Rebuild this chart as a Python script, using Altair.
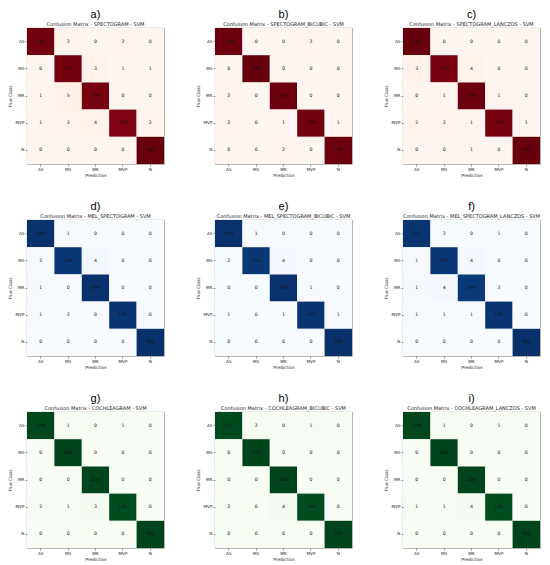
import altair as alt
import pandas as pd

classes = ["AS", "MS", "MR", "MVP", "N"]

letters = ["a)", "b)", "c)", "d)", "e)", "f)", "g)", "h)", "i)"]
names = [
    "SPECTOGRAM", "SPECTOGRAM_BICUBIC", "SPECTOGRAM_LANCZOS",
    "MEL_SPECTOGRAM", "MEL_SPECTOGRAM_BICUBIC", "MEL_SPECTOGRAM_LANCZOS",
    "COCHLEAGRAM", "COCHLEAGRAM_BICUBIC", "COCHLEAGRAM_LANCZOS",
]

reds = ["#fff5f0", "#fee0d2", "#fcbba1", "#fc9272", "#fb6a4a", "#ef3b2c", "#cb181d", "#a50f15", "#67000d"]
blues = ["#f7fbff", "#deebf7", "#c6dbef", "#9ecae1", "#6baed6", "#4292c6", "#2171b5", "#08519c", "#08306b"]
greens = ["#f7fcf5", "#e5f5e0", "#c7e9c0", "#a1d99b", "#74c476", "#41ab5d", "#238b45", "#006d2c", "#00441b"]
palettes = [reds] * 3 + [blues] * 3 + [greens] * 3
color_stops = [0, 25, 50, 75, 100, 125, 150, 175, 200]

cm_a = [[196, 2, 0, 2, 0], [0, 195, 3, 1, 1], [1, 5, 194, 0, 0], [1, 3, 4, 190, 2], [0, 0, 0, 0, 200]]
cm_b = [[198, 0, 0, 2, 0], [0, 200, 0, 0, 0], [2, 0, 198, 0, 0], [2, 0, 1, 196, 1], [0, 0, 2, 0, 198]]
cm_c = [[200, 0, 0, 0, 0], [3, 193, 4, 0, 0], [0, 1, 198, 1, 0], [2, 2, 1, 194, 1], [0, 0, 1, 0, 199]]
cm_d = [[199, 1, 0, 0, 0], [2, 194, 4, 0, 0], [1, 0, 199, 0, 0], [1, 2, 0, 197, 0], [0, 0, 0, 0, 200]]
cm_e = [[199, 1, 0, 0, 0], [2, 194, 4, 0, 0], [0, 0, 199, 1, 0], [1, 0, 1, 197, 1], [0, 0, 0, 0, 200]]
cm_f = [[197, 2, 0, 1, 0], [1, 195, 4, 0, 0], [1, 4, 193, 2, 0], [1, 1, 1, 197, 0], [0, 0, 0, 0, 200]]
cm_g = [[198, 1, 0, 1, 0], [0, 200, 0, 0, 0], [0, 0, 200, 0, 0], [2, 1, 3, 194, 0], [0, 0, 0, 0, 200]]
cm_h = [[197, 2, 0, 1, 0], [0, 200, 0, 0, 0], [0, 0, 200, 0, 0], [2, 0, 4, 194, 0], [0, 0, 0, 0, 200]]
cm_i = [[198, 1, 0, 1, 0], [0, 200, 0, 0, 0], [0, 0, 200, 0, 0], [1, 1, 4, 194, 0], [0, 0, 0, 0, 200]]

matrices = [cm_a, cm_b, cm_c, cm_d, cm_e, cm_f, cm_g, cm_h, cm_i]

W = 137
H = 136


def panel(letter, name, cm, palette):
    rows = [
        {"true": classes[i], "pred": classes[j], "value": cm[i][j]}
        for i in range(5) for j in range(5)
    ]
    df = pd.DataFrame(rows)
    base = alt.Chart(df).encode(
        x=alt.X("pred:N", sort=classes, title="Prediction",
                scale=alt.Scale(paddingInner=0, paddingOuter=0),
                axis=alt.Axis(labelAngle=0)),
        y=alt.Y("true:N", sort=classes, title="True Class",
                scale=alt.Scale(paddingInner=0, paddingOuter=0)),
    )
    rect = base.mark_rect(strokeWidth=0).encode(
        color=alt.Color("value:Q", scale=alt.Scale(domain=color_stops, range=palette), legend=None)
    )
    text = base.mark_text(fontSize=4.6, color="#111", font="DejaVu Sans").encode(text="value:Q")
    return alt.layer(rect, text).properties(
        width=W, height=H,
        title=alt.TitleParams(
            text=letter, subtitle="Confusion Matrix - " + name + " - SVM",
            fontSize=11, fontWeight="normal", font="Liberation Sans", color="black",
            subtitleFontSize=5, subtitleFont="DejaVu Sans", subtitleColor="#222",
            subtitlePadding=2, offset=1, anchor="middle", frame="group",
        ),
    ).resolve_scale(color="independent")


charts = [panel(l, n, m, p) for l, n, m, p in zip(letters, names, matrices, palettes)]

chart = alt.concat(*charts, columns=3, spacing={"row": 22, "column": 31}).resolve_scale(
    color="independent"
).properties(
    padding=0
).configure_view(
    stroke="#8a8a8a", strokeWidth=0.8
).configure_axis(
    labelFontSize=4.2, titleFontSize=4.3, tickSize=2, domain=False,
    labelFont="DejaVu Sans", titleFont="DejaVu Sans", titleFontWeight="normal",
    labelColor="#222", titleColor="#222", titlePadding=2, labelPadding=1,
    tickColor="#444", tickWidth=0.5,
)

chart.save("out.html", embed_options={"renderer": "svg", "actions": False})
